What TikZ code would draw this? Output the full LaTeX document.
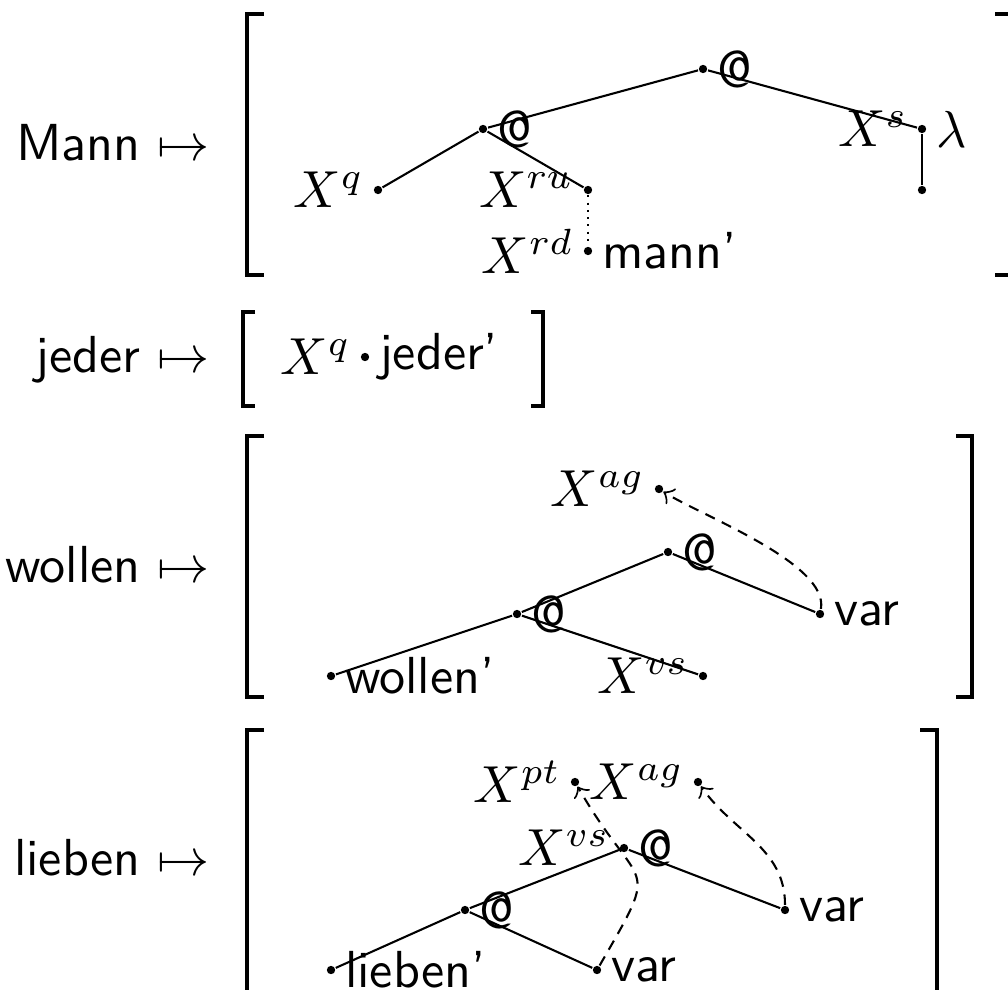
\documentclass[tikz,border=0pt]{standalone}
\usepackage{tikz}
\renewcommand{\familydefault}{\sfdefault}
\tikzset{
	knot/.style={circle,fill,inner sep=0pt,minimum size=1.6pt},
	brack/.style={line width=0.8pt},
	dep/.style={->,dash pattern=on 2pt off 1.5pt},
	lexitem/.style={anchor=base east,inner sep=0pt},
	every label/.style={inner sep=1.5pt}
}
\begin{document}
\begin{tikzpicture}[x=9.6pt,y=9.6pt]
				\useasboundingbox (0,0) rectangle (20.16,19.78);
				% Mann
				\node[lexitem] (mann) at (4.22,16.56) {Mann $\mapsto$};
				\draw[brack] (5.28,19.5) -| (4.94,14.28) -- (5.28,14.28);
				\draw[brack] (19.9,19.5) -| (20.24,14.28) -- (19.9,14.28);
				\node[knot,label=right:@] (m0) at (14.06,18.4) {};
				\node[knot,label=right:@] (m1) at (9.66,17.2) {};
				\node[knot,label=left:$X^s$,label=right:$\lambda$] (ms) at (18.44,17.2) {};
				\node[knot] (mlam) at (18.44,15.98) {};
				\node[knot,label=left:$X^q$] (mq) at (7.56,15.98) {};
				\node[knot,label=left:$X^{ru}$] (mru) at (11.76,15.98) {};
				\node[knot,label=left:$X^{rd}$,label=right:mann'] (mrd) at (11.76,14.76) {};
				\draw (m0) -- (m1);
				\draw (m0) -- (ms);
				\draw (m1) -- (mq);
				\draw (m1) -- (mru);
				\draw (ms) -- (mlam);
				\draw[densely dotted] (mru) -- (mrd);
				% jeder
				\node[lexitem] (jeder) at (4.22,12.34) {jeder $\mapsto$};
				\draw[brack] (5.1,13.54) -| (4.86,11.66) -- (5.1,11.66);
				\draw[brack] (10.62,13.54) -| (10.86,11.66) -- (10.62,11.66);
				\node[knot,label=left:$X^q$,label=right:jeder'] (jq) at (7.3,12.64) {};
				% wollen
				\node[lexitem] (wollen) at (4.22,8.14) {wollen $\mapsto$};
				\draw[brack] (5.28,11.06) -| (4.94,5.84) -- (5.28,5.84);
				\draw[brack] (19.12,11.06) -| (19.44,5.84) -- (19.12,5.84);
				\node[knot,label=left:$X^{ag}$] (wag) at (13.18,10.0) {};
				\node[knot,label=right:@] (w0) at (13.36,8.74) {};
				\node[knot,label=right:@] (w1) at (10.34,7.5) {};
				\node[knot,label=right:var] (wvar) at (16.4,7.5) {};
				\node[knot,label=right:wollen'] (wl) at (6.62,6.26) {};
				\node[knot,label=left:$X^{vs}$] (wvs) at (14.06,6.26) {};
				\draw (w0) -- (w1);
				\draw (w0) -- (wvar);
				\draw (w1) -- (wl);
				\draw (w1) -- (wvs);
				\draw[dep] (wvar) to[out=80,in=-32,looseness=0.6] (wag);
				% lieben
				\node[lexitem] (lieben) at (4.22,2.28) {lieben $\mapsto$};
				\draw[brack] (5.28,5.18) -| (4.94,-0.06) -- (5.28,-0.06);
				\draw[brack] (18.4,5.18) -| (18.74,-0.06) -- (18.4,-0.06);
				\node[knot,label=left:$X^{pt}$] (lpt) at (11.5,4.14) {};
				\node[knot,label=left:$X^{ag}$] (lag) at (13.96,4.14) {};
				\node[knot,label=left:$X^{vs}$,label=right:@] (l0) at (12.48,2.82) {};
				\node[knot,label=right:@] (l1) at (9.3,1.58) {};
				\node[knot,label=right:var] (lvr) at (15.7,1.58) {};
				\node[knot,label=right:lieben'] (ll) at (6.62,0.38) {};
				\node[knot,label=right:var] (lvb) at (11.94,0.38) {};
				\draw (l0) -- (l1);
				\draw (l0) -- (lvr);
				\draw (l1) -- (ll);
				\draw (l1) -- (lvb);
				\draw[dep] (lvb) to[out=60,in=-60,looseness=1.8] (lpt);
				\draw[dep] (lvr) to[out=90,in=-55] (lag);
			\end{tikzpicture}
\end{document}
